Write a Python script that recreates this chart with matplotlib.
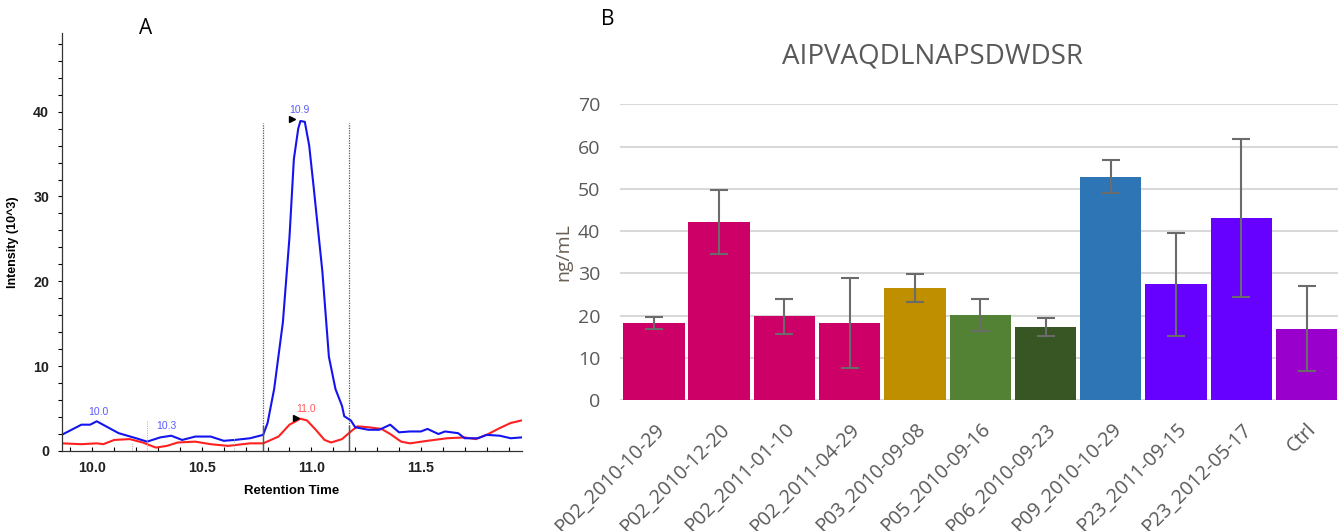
import numpy as np
import matplotlib.pyplot as plt
from matplotlib.ticker import MultipleLocator

# ---- panel A: chromatogram traces ----
rt_blue = [9.86, 9.95, 9.99, 10.02, 10.07, 10.12, 10.20, 10.25, 10.31, 10.36,
           10.41, 10.47, 10.54, 10.60, 10.65, 10.72, 10.78, 10.80, 10.83, 10.87,
           10.90, 10.92, 10.94, 10.95, 10.97, 10.99, 11.01, 11.05, 11.08, 11.11,
           11.14, 11.15, 11.18, 11.20, 11.26, 11.31, 11.36, 11.40, 11.45, 11.50,
           11.53, 11.58, 11.61, 11.67, 11.70, 11.76, 11.80, 11.86, 11.91, 11.96]
int_blue = [1.9, 3.1, 3.1, 3.5, 2.8, 2.1, 1.5, 1.1, 1.6, 1.8,
            1.3, 1.7, 1.7, 1.2, 1.3, 1.5, 1.9, 3.3, 7.3, 15.2,
            25.2, 34.4, 38.0, 38.9, 38.8, 36.0, 31.2, 21.2, 11.1, 7.3,
            5.3, 4.1, 3.6, 2.8, 2.5, 2.5, 3.1, 2.2, 2.3, 2.3,
            2.6, 2.0, 2.3, 2.1, 1.5, 1.5, 1.9, 1.8, 1.5, 1.6]

rt_red = [9.86, 9.95, 10.02, 10.05, 10.10, 10.17, 10.23, 10.29, 10.34, 10.39,
          10.47, 10.54, 10.62, 10.72, 10.78, 10.85, 10.90, 10.95, 10.98, 11.02,
          11.06, 11.09, 11.14, 11.18, 11.21, 11.26, 11.32, 11.36, 11.41, 11.45,
          11.53, 11.62, 11.70, 11.75, 11.80, 11.86, 11.91, 11.96]
int_red = [0.9, 0.8, 0.9, 0.8, 1.3, 1.4, 1.0, 0.4, 0.6, 1.0,
           1.1, 0.8, 0.6, 0.9, 0.9, 1.7, 3.1, 3.8, 3.6, 2.5,
           1.3, 1.0, 1.4, 2.3, 2.9, 2.8, 2.6, 2.0, 1.1, 0.9,
           1.2, 1.5, 1.6, 1.4, 1.9, 2.7, 3.3, 3.6]

peak_bounds = [10.78, 11.17]

# ---- panel B: concentration per sample ----
samples = ["P02_2010-10-29", "P02_2010-12-20", "P02_2011-01-10", "P02_2011-04-29",
           "P03_2010-09-08", "P05_2010-09-16", "P06_2010-09-23", "P09_2010-10-29",
           "P23_2011-09-15", "P23_2012-05-17", "Ctrl"]
conc = [18.2, 42.1, 19.8, 18.2, 26.5, 20.2, 17.3, 52.9, 27.4, 43.0, 16.9]
conc_err = [1.5, 7.6, 4.2, 10.7, 3.4, 3.8, 2.1, 3.8, 12.2, 18.7, 10.0]
bar_colors = ["#CC0066", "#CC0066", "#CC0066", "#CC0066", "#BF8F00", "#548235",
              "#375623", "#2E75B6", "#6600FF", "#6600FF", "#9900CC"]

fig = plt.figure(figsize=(13.41, 5.31), dpi=100)

# ===== A =====
axA = fig.add_axes([0.0460, 0.1507, 0.3430, 0.7876])
axA.plot(rt_red, int_red, color="#ff2020", lw=1.5)
axA.plot(rt_blue, int_blue, color="#1414f0", lw=1.5)

for xb in peak_bounds:
    axA.plot([xb, xb], [0, 38.7], color="#555555", lw=0.9, ls=(0, (1, 1)))
    axA.plot([xb, xb], [0, 3.0], color="#555555", lw=1.0)
for xs, ys in [(10.25, 3.5), (10.18, 1.0), (10.645, 1.5)]:
    axA.plot([xs, xs], [0, ys], color="#bbbbbb", lw=0.8, ls=(0, (1, 1)))

axA.plot([10.91], [39.1], marker=">", color="black", ms=5)
axA.plot([10.93], [3.9], marker=">", color="black", ms=5)
ann_font = dict(family="Liberation Sans", fontsize=7.5, ha="center", va="center")
axA.text(10.945, 40.2, "10.9", color="#5a5aff", **ann_font)
axA.text(10.976, 5.0, "11.0", color="#ff5a5a", **ann_font)
axA.text(10.027, 4.57, "10.0", color="#5a5aff", **ann_font)
axA.text(10.338, 2.95, "10.3", color="#5a5aff", **ann_font)

axA.set_xlim(9.86, 11.96)
axA.set_ylim(0, 49.3)
axA.xaxis.set_major_locator(MultipleLocator(0.5))
axA.xaxis.set_minor_locator(MultipleLocator(0.1))
axA.yaxis.set_major_locator(MultipleLocator(10))
axA.yaxis.set_minor_locator(MultipleLocator(2))
axA.xaxis.set_major_formatter(lambda v, p: f"{v:.1f}")
axA.tick_params(axis="x", which="both", direction="in", length=3, width=0.8, pad=7.5)
axA.tick_params(axis="y", which="both", direction="out", length=3, width=0.8, pad=6)
for lab in axA.get_xticklabels() + axA.get_yticklabels():
    lab.set_fontfamily("Liberation Sans")
    lab.set_fontweight("bold")
    lab.set_fontsize(10.3)
    lab.set_color("#222222")
for s in ["top", "right"]:
    axA.spines[s].set_visible(False)
for s in ["left", "bottom"]:
    axA.spines[s].set_color("#333333")
    axA.spines[s].set_linewidth(0.9)
axA.set_xlabel("Retention Time", family="Liberation Sans", fontweight="bold",
               fontsize=9.5, labelpad=7)
axA.set_ylabel("Intensity (10^3)", family="Liberation Sans", fontweight="bold",
               fontsize=9, labelpad=10)
fig.text(146 / 1341, 1 - 28.8 / 531, "A", family="Open Sans", fontsize=15,
         ha="center", va="center")

# ===== B =====
axB = fig.add_axes([0.4623, 0.2467, 0.5354, 0.5569])
pos = np.arange(len(samples))
axB.bar(pos, conc, width=0.94, color=bar_colors, zorder=2)
axB.errorbar(pos, conc, yerr=conc_err, fmt="none", ecolor="#6b6b6b",
             elinewidth=1.5, capsize=6.5, capthick=1.5, zorder=3)
axB.set_xlim(-0.52, 10.48)
axB.set_ylim(0, 70)
axB.set_yticks(range(0, 71, 10))
axB.grid(axis="y", color="#d9d9d9", lw=1.5, zorder=0)
axB.set_axisbelow(True)
for s in axB.spines.values():
    s.set_visible(False)
axB.set_xticks(pos)
axB.set_xticklabels(samples, rotation=45, ha="right", va="top",
                    rotation_mode="anchor", family="Open Sans", fontsize=14.2,
                    color="#595959")
axB.tick_params(axis="x", length=0, pad=14)
axB.tick_params(axis="y", length=0, pad=14, labelsize=14, labelcolor="#595959")
for lab in axB.get_yticklabels():
    lab.set_fontfamily("Open Sans")
axB.set_ylabel("ng/mL", family="Open Sans", fontsize=14, color="#6a5f55",
               labelpad=4)
fig.text(933 / 1341, 1 - 57 / 531, "AIPVAQDLNAPSDWDSR", family="Open Sans",
         fontsize=20, color="#595959", ha="center", va="center")
fig.text(608 / 1341, 1 - 19.6 / 531, "B", family="Open Sans", fontsize=15,
         ha="center", va="center")

fig.savefig("out.png", dpi=100)
